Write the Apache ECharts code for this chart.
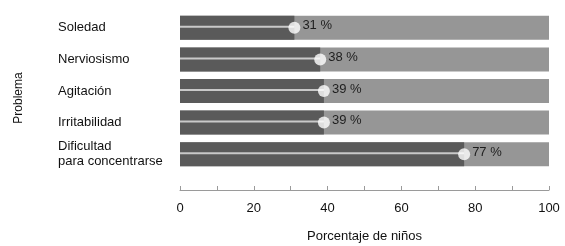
<!DOCTYPE html>
<html>
<head>
<meta charset="utf-8">
<script src="https://cdn.jsdelivr.net/npm/echarts@6/dist/echarts.min.js"></script>
<style>
  html, body { margin: 0; padding: 0; background: #fff; }
  #chart { width: 565px; height: 246px; }
</style>
</head>
<body>
<div id="chart"></div>
<script>
var categories = ['Soledad', 'Nerviosismo', 'Agitación', 'Irritabilidad', 'Dificultad\npara concentrarse'];
var values = [31, 38, 39, 39, 77];
var fullValues = [100, 100, 100, 100, 100];

var font = 'Liberation Sans, Arial, sans-serif';

var option = {
    animation: false,
    grid: {
        left: 180,
        right: 16,
        top: 12,
        bottom: 76,
        outerBoundsMode: 'none'
    },
    xAxis: {
        type: 'value',
        min: 0,
        max: 100,
        interval: 10,
        offset: 20,
        name: 'Porcentaje de niños',
        nameLocation: 'middle',
        nameGap: 40,
        nameTextStyle: { color: '#111', fontSize: 13, fontFamily: font },
        axisLine: { show: true, lineStyle: { color: '#9a9a9a', width: 1 } },
        axisTick: { show: true, inside: true, length: 4, lineStyle: { color: '#9a9a9a' } },
        splitLine: { show: false },
        axisLabel: {
            margin: 12,
            color: '#111',
            fontSize: 13,
            fontFamily: font,
            formatter: function (v) { return v % 20 === 0 ? v : ''; }
        }
    },
    yAxis: {
        type: 'category',
        data: categories,
        inverse: true,
        name: 'Problema',
        nameLocation: 'middle',
        nameGap: 155,
        nameTextStyle: { color: '#111', fontSize: 12, fontFamily: font, padding: [0, 14, 0, 0] },
        axisLine: { show: false },
        axisTick: { show: false },
        axisLabel: {
            align: 'left',
            margin: 122,
            color: '#111',
            fontSize: 13,
            lineHeight: 15,
            fontFamily: font
        }
    },
    series: [
        {
            type: 'bar',
            data: fullValues,
            barWidth: 24,
            barGap: '-100%',
            itemStyle: { color: '#969696' },
            silent: true
        },
        {
            type: 'bar',
            data: values,
            barWidth: 24,
            barGap: '-100%',
            itemStyle: { color: '#5a5a5a' },
            silent: true
        },
        {
            type: 'custom',
            data: values.map(function (v, i) { return [v, i]; }),
            renderItem: function (params, api) {
                var start = api.coord([0, api.value(1)]);
                var end = api.coord([api.value(0), api.value(1)]);
                return {
                    type: 'line',
                    shape: { x1: start[0], y1: start[1] - 1, x2: end[0], y2: end[1] - 1 },
                    style: { stroke: '#c9c9c9', lineWidth: 2 }
                };
            },
            z: 3
        },
        {
            type: 'scatter',
            data: values.map(function (v, i) { return [v, i]; }),
            symbol: 'circle',
            symbolSize: 12,
            itemStyle: { color: '#ffffff' },
            label: {
                show: true,
                position: 'right',
                distance: 2,
                offset: [0, -2],
                color: '#000',
                fontSize: 13,
                fontFamily: font,
                formatter: function (p) { return p.value[0] + ' %'; }
            },
            z: 4
        }
    ]
};

var chartDom = document.getElementById('chart');
var myChart = echarts.init(chartDom);
myChart.setOption(option, true);
</script>
</body>
</html>
